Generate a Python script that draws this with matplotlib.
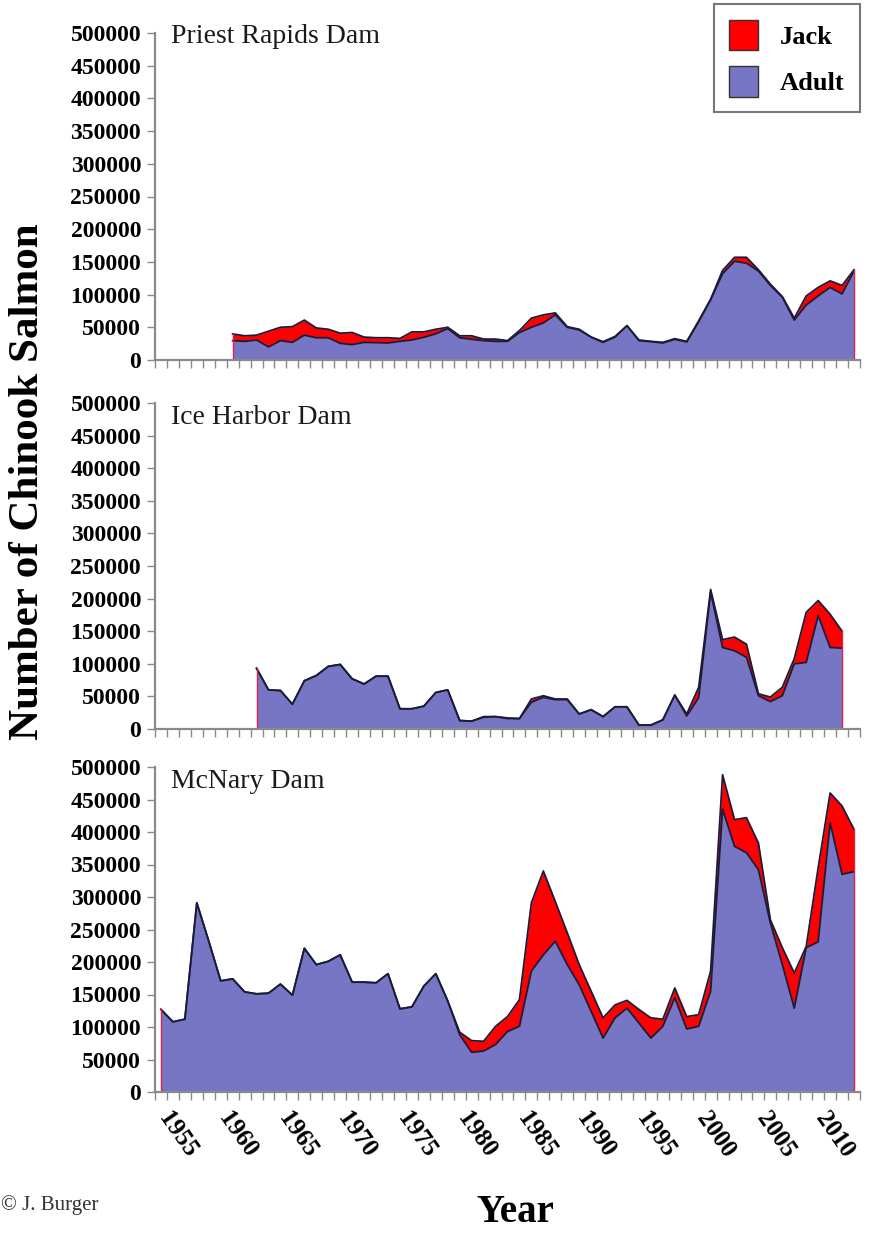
import numpy as np
import matplotlib
matplotlib.use("Agg")
import matplotlib.pyplot as plt
from matplotlib.patches import Patch

plt.rcParams['font.family'] = ['Liberation Serif', 'DejaVu Serif']

# ---- data, values in fish ----
pr_years = list(range(1960, 2013))
pr_adult = [29600, 28500, 30600, 20000, 29600, 27000, 38000, 34000, 34000, 25500,
            23500, 27000, 26500, 26000, 28500, 30600, 34700, 40000, 48000, 34000,
            31600, 29600, 28500, 28500, 42000, 50000, 56600, 69000, 50000, 46000,
            35000, 27000, 35000, 52500, 29600, 28000, 26000, 31600, 27500, 58600,
            92000, 132000, 151000, 148000, 136000, 114000, 96000, 61000, 84000, 98000,
            111000, 101000, 136000]
pr_total = [39800, 37000, 38000, 44000, 50000, 51000, 61000, 49000, 47000, 41000,
            42000, 35000, 34000, 34000, 33000, 43000, 43000, 47000, 50000, 37000,
            37000, 32000, 32000, 29600, 45000, 64000, 69000, 72000, 51000, 47000,
            35000, 28000, 36000, 52500, 30600, 28500, 27000, 32600, 28500, 60000,
            93000, 137000, 157000, 157000, 138000, 116000, 97000, 64000, 98000, 111000,
            121000, 114000, 138000]

ih_years = list(range(1962, 2012))
ih_adult = [93000, 60000, 59000, 38000, 74000, 82000, 96000, 99000, 77000, 69000,
            81000, 81000, 31000, 31000, 35000, 56000, 60000, 13000, 12000, 18000,
            19000, 16000, 16000, 41000, 48500, 45000, 45000, 23000, 29600, 19000,
            34000, 34000, 6000, 6000, 14000, 52000, 20000, 48000, 210000, 125000,
            120000, 110000, 51000, 42000, 51000, 100000, 102000, 174000, 125000, 124000]
ih_total = [93000, 60000, 59000, 38000, 74000, 82000, 96000, 99000, 77000, 69000,
            81000, 81000, 31000, 31000, 35000, 56000, 60000, 13000, 12000, 19000,
            19000, 17000, 16000, 46000, 51000, 46000, 46000, 23000, 29600, 19000,
            34000, 34000, 6000, 6000, 14000, 52000, 23000, 64000, 214000, 137000,
            141000, 130000, 54000, 49000, 64000, 108000, 179000, 197000, 176000, 150000]

mc_years = list(range(1954, 2013))
mc_adult = [127000, 108000, 112000, 291000, 232000, 171000, 174000, 154000, 151000, 152000,
            166000, 149000, 221000, 196000, 201000, 211000, 169000, 169000, 168000, 182000,
            128000, 131000, 163000, 182000, 140000, 88000, 61000, 63000, 73000, 93000,
            101000, 186000, 211000, 232000, 196000, 165000, 124000, 83000, 114000, 129000,
            106000, 83000, 101000, 145000, 97000, 101000, 155000, 435000, 378000, 368000,
            342000, 260000, 196000, 129000, 222000, 231000, 414000, 335000, 339000]
mc_total = [127000, 108000, 112000, 291000, 232000, 171000, 174000, 154000, 151000, 152000,
            166000, 149000, 221000, 196000, 201000, 211000, 169000, 169000, 168000, 182000,
            128000, 131000, 163000, 182000, 140000, 92000, 79000, 78000, 101000, 116000,
            142000, 291000, 340000, 293000, 245000, 196000, 155000, 114000, 134000, 141000,
            127000, 114000, 112000, 160000, 116000, 119000, 186000, 488000, 419000, 422000,
            383000, 265000, 222000, 183000, 224000, 345000, 460000, 440000, 404000]

dams = [("Priest Rapids Dam", pr_years, pr_adult, pr_total),
        ("Ice Harbor Dam", ih_years, ih_adult, ih_total),
        ("McNary Dam", mc_years, mc_adult, mc_total)]

adult_col = '#7676c4'
jack_col = '#ff0000'
line_col = '#1c1c3a'
axis_col = '#8a8a8a'

W, H = 871, 1233
fig = plt.figure(figsize=(W / 100, H / 100), dpi=100)

# axes boxes in pixels: (zero line y, height)
boxes = [(360, 327), (729, 326), (1092, 325)]
title_y = [0.99, 0.955, 0.955]

for i, (name, yrs, adult, total) in enumerate(dams):
    base, h = boxes[i]
    ax = fig.add_axes([155 / W, (H - base) / H, 705 / W, h / H])
    x = np.array(yrs)
    a = np.array(adult)
    t = np.array(total)
    ax.fill_between(x, 0, a, color=adult_col, lw=0)
    ax.fill_between(x, a, t, color=jack_col, lw=0)
    ax.plot(x, a, color=line_col, lw=1.3)
    ax.plot(x, t, color=line_col, lw=1.3)
    # red edges at the first and last year
    ax.plot([x[0], x[0]], [0, t[0]], color='#e0204a', lw=1.0)
    ax.plot([x[-1], x[-1]], [0, t[-1]], color='#e0204a', lw=1.0)

    ax.set_xlim(1953.5, 2012.5)
    ax.set_ylim(0, 500000)
    ax.set_yticks(np.arange(0, 500001, 50000))
    ax.set_yticklabels([str(v) for v in range(0, 500001, 50000)],
                       fontsize=17, fontweight='bold')
    ax.set_xticks(np.arange(1953.5, 2012.6, 1.0), minor=True)
    ax.set_xticks(np.arange(1955, 2011, 5))
    ax.tick_params(axis='x', which='major', length=0)
    ax.tick_params(axis='x', which='minor', length=6, width=1, color=axis_col)
    ax.tick_params(axis='y', length=6, width=1, color=axis_col, pad=4)
    for s in ['top', 'right']:
        ax.spines[s].set_visible(False)
    for s in ['left', 'bottom']:
        ax.spines[s].set_color(axis_col)
        ax.spines[s].set_linewidth(1.6)
    ax.set_facecolor('none')

    ax.text(0.022, title_y[i], name, transform=ax.transAxes, fontsize=20,
            va='center', ha='left', color='#1a1a1a')

    if i < 2:
        ax.set_xticklabels([])
    else:
        ax.set_xticklabels([str(v) for v in range(1955, 2011, 5)],
                           fontsize=18, fontweight='bold', rotation=-55,
                           ha='left', va='top', rotation_mode='anchor')
        ax.tick_params(axis='x', which='major', pad=11)

handles = [Patch(facecolor=jack_col, edgecolor='#333333', lw=1),
           Patch(facecolor=adult_col, edgecolor='#333333', lw=1)]
leg = fig.legend(handles, ['Jack', 'Adult'], loc='upper right',
                 bbox_to_anchor=(860 / W, 1 - 4 / H), frameon=True, fancybox=False,
                 prop={'weight': 'bold', 'size': 19}, handlelength=1.1, handleheight=1.4,
                 handletextpad=0.8, labelspacing=0.6, borderpad=0.6, borderaxespad=0)
leg.get_frame().set_edgecolor('#555555')
leg.get_frame().set_linewidth(1.5)

fig.text(28 / W, (H - 482) / H, 'Number of Chinook Salmon', rotation=90,
         fontsize=31, fontweight='bold', ha='center', va='center')
fig.text(515 / W, (H - 1212) / H, 'Year', fontsize=28, fontweight='bold',
         ha='center', va='center')
fig.text(1 / W, (H - 1205) / H, '\u00a9 J. Burger', fontsize=15, color='#333333',
         ha='left', va='center')

fig.savefig('out.png', dpi=100)
